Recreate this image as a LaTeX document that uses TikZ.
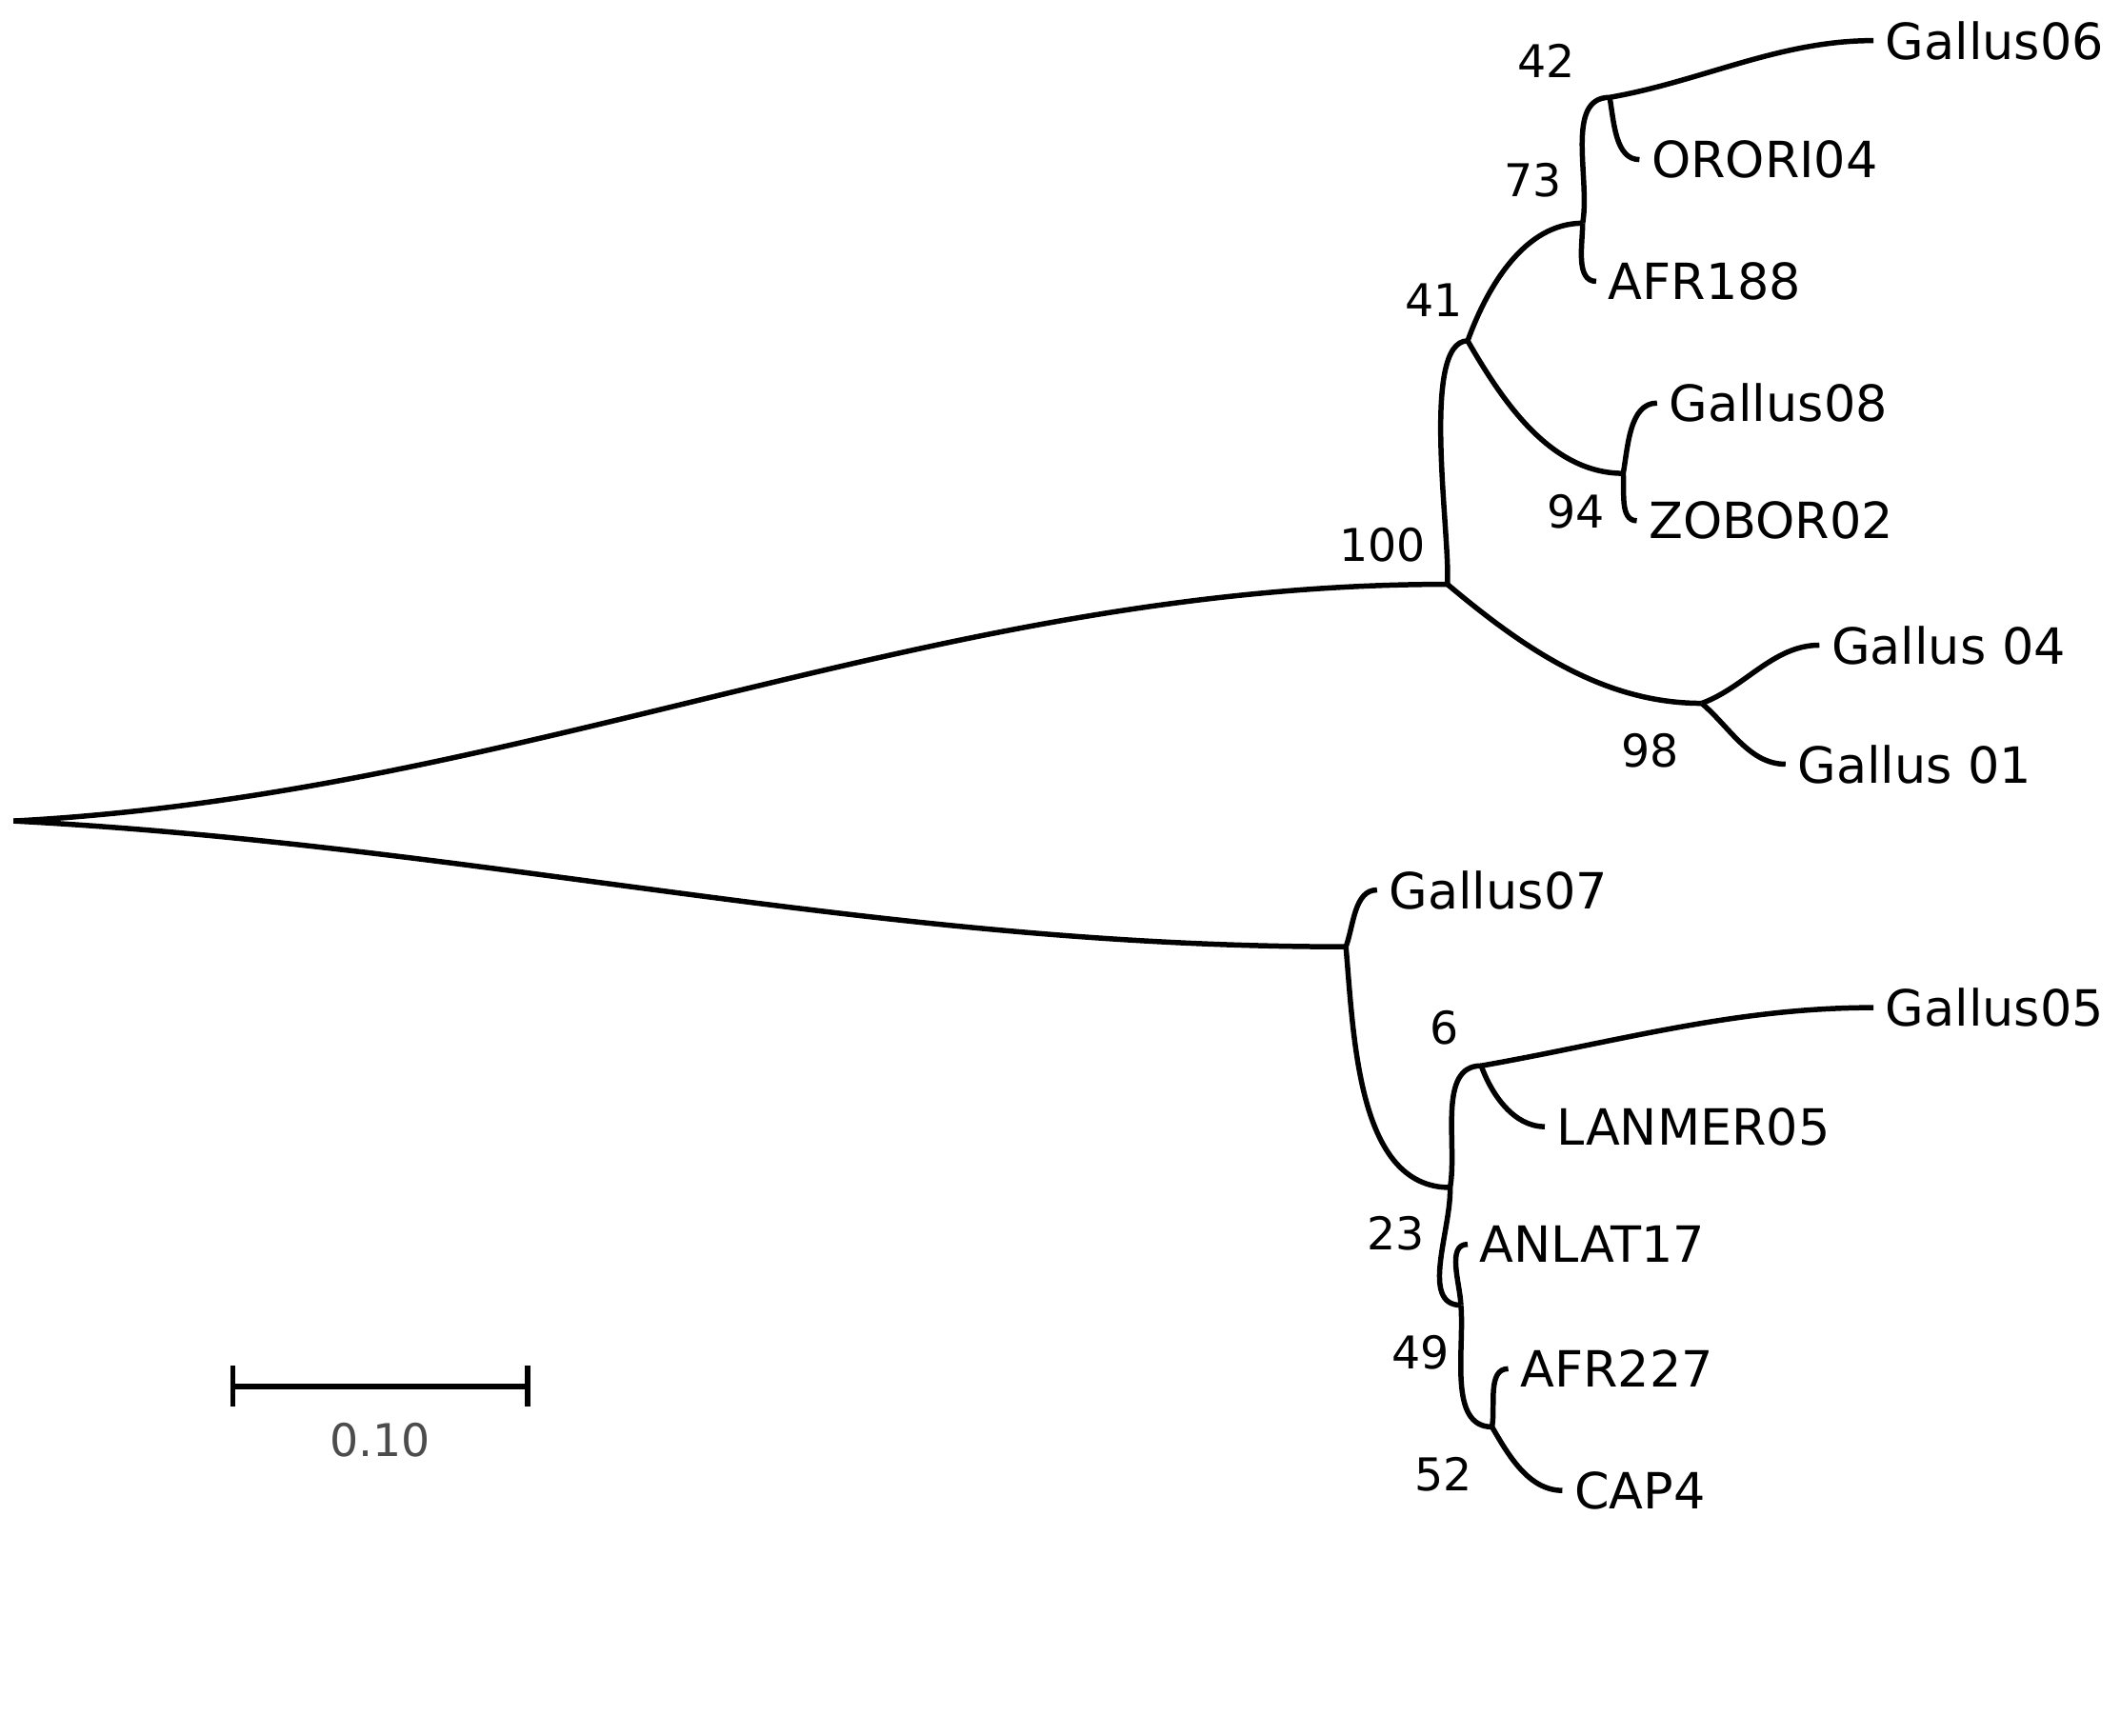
\documentclass[tikz,border=0pt]{standalone}
\usepackage{fontspec}
\setmainfont{DejaVu Sans}
\begin{document}
\begin{tikzpicture}[x=0.1mm,y=-0.1mm,line width=1.1pt,
    br/.style = {out=#1, in=180, looseness=0.9},
    leaf/.style = {anchor=west, font=\fontsize{10.5}{12}\selectfont, inner sep=2pt},
    boot/.style = {font=\fontsize{9.5}{11}\selectfont, inner sep=0pt}]
    \useasboundingbox (0,0) rectangle (1568,1283);
    % inner nodes
    \coordinate (root) at (10,607);
    \coordinate (n100) at (1070,432);
    \coordinate (n41) at (1085,252);
    \coordinate (n73) at (1170,165);
    \coordinate (n42) at (1190,72);
    \coordinate (n94) at (1200,350);
    \coordinate (n98) at (1258,520);
    \coordinate (g7) at (995,700);
    \coordinate (n23) at (1072,878);
    \coordinate (n6) at (1095,788);
    \coordinate (n49) at (1080,965);
    \coordinate (n52) at (1103,1055);
    % leaves
    \node[leaf] (gal06) at (1385,30) {Gallus06};
    \node[leaf] (orori) at (1212,118) {ORORI04};
    \node[leaf] (afr188) at (1180,208) {AFR188};
    \node[leaf] (gal08) at (1225,298) {Gallus08};
    \node[leaf] (zobor) at (1210,385) {ZOBOR02};
    \node[leaf] (gal04) at (1345,477) {Gallus 04};
    \node[leaf] (gal01) at (1320,565) {Gallus 01};
    \node[leaf] (gal07) at (1018,658) {Gallus07};
    \node[leaf] (gal05) at (1385,745) {Gallus05};
    \node[leaf] (lanmer) at (1142,833) {LANMER05};
    \node[leaf] (anlat) at (1085,920) {ANLAT17};
    \node[leaf] (afr227) at (1115,1012) {AFR227};
    \node[leaf] (cap4) at (1155,1102) {CAP4};
    % branches
    \draw (root) to[br=0, out=3] (n100);
    \draw (root) to[br=0, out=-3] (g7);
    \draw (n100) to[br=86, looseness=0.5] (n41);
    \draw (n100) to[br=-40] (n98);
    \draw (n41) to[br=70] (n73);
    \draw (n41) to[br=-60] (n94);
    \draw (n73) to[br=80] (n42);
    \draw (n73) to[br=-90] (afr188.west);
    \draw (n42) to[br=10] (gal06.west);
    \draw (n42) to[br=-80] (orori.west);
    \draw (n94) to[br=80] (gal08.west);
    \draw (n94) to[br=-85] (zobor.west);
    \draw (n98) to[br=20] (gal04.west);
    \draw (n98) to[br=-40] (gal01.west);
    \draw (g7) to[br=70] (gal07.west);
    \draw (g7) to[br=-85] (n23);
    \draw (n23) to[br=80] (n6);
    \draw (n23) to[br=-88] (n49);
    \draw (n6) to[br=10] (gal05.west);
    \draw (n6) to[br=-70] (lanmer.west);
    \draw (n49) to[br=92] (anlat.west);
    \draw (n49) to[br=-85] (n52);
    \draw (n52) to[br=80] (afr227.west);
    \draw (n52) to[br=-60] (cap4.west);
    % bootstrap values
    \node[boot] at (1143,45) {42};
    \node[boot] at (1133,133) {73};
    \node[boot] at (1060,222) {41};
    \node[boot] at (1022,403) {100};
    \node[boot] at (1165,378) {94};
    \node[boot] at (1220,555) {98};
    \node[boot] at (1068,760) {6};
    \node[boot] at (1032,912) {23};
    \node[boot] at (1050,1000) {49};
    \node[boot] at (1067,1090) {52};
    % scale bar
    \coordinate (sbl) at (172,1025);
    \coordinate (sbr) at (390,1025);
    \draw (sbl) -- (sbr);
    \draw (172,1010) -- (172,1040) (390,1010) -- (390,1040);
    \node[boot, text=black!70] at (281,1065) {0.10};
\end{tikzpicture}
\end{document}
